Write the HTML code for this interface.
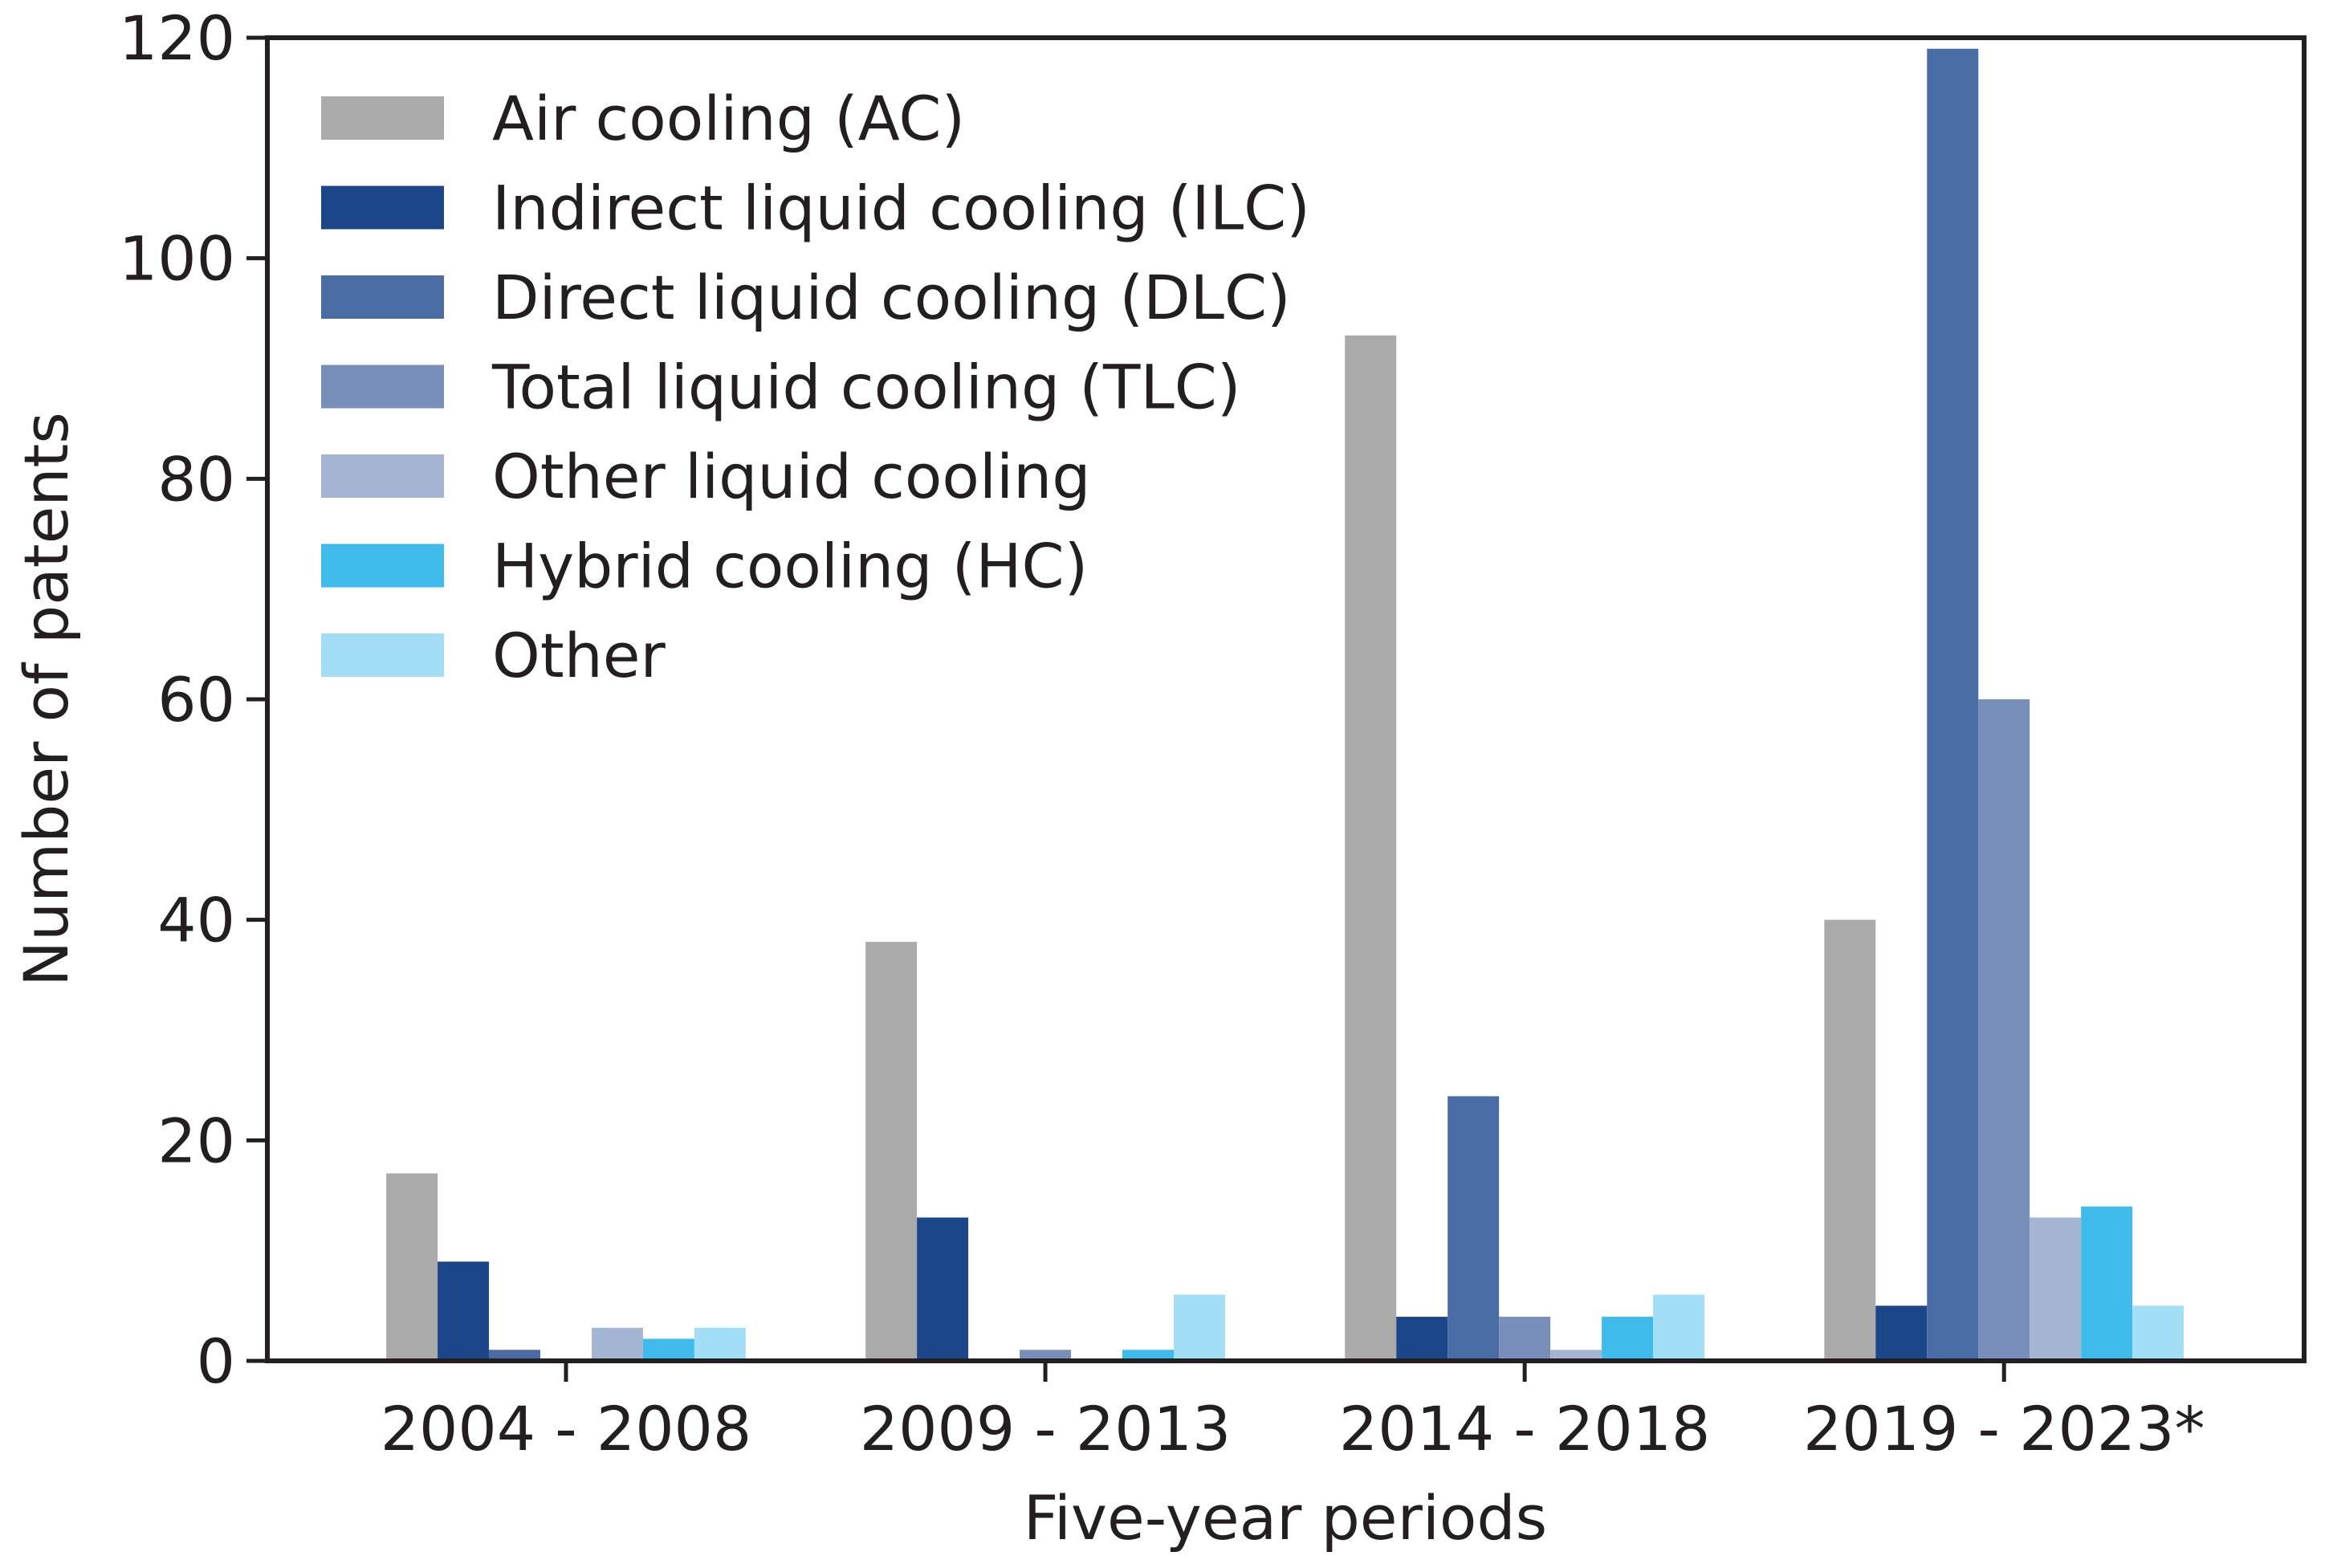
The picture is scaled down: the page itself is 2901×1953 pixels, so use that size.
<!DOCTYPE html>
<html><head><meta charset="utf-8"><style>
html,body{margin:0;padding:0;background:#fff;}
svg{display:block;font-family:"DejaVu Sans","Liberation Sans",sans-serif;}
</style></head><body>
<svg id="chart" width="2901" height="1953" viewBox="0 0 2901 1953" xmlns="http://www.w3.org/2000/svg">
<g id="bars"></g>
<g id="axes"></g>
<g id="legend"></g>
<text x="0" y="0" transform="translate(84,871) rotate(-90)" text-anchor="middle" font-size="76" fill="#231f20">Number of patents</text>
<text x="1601" y="1917" text-anchor="middle" font-size="76" fill="#231f20">Five-year periods</text>
</svg>
<script>
const categories = ["2004 - 2008","2009 - 2013","2014 - 2018","2019 - 2023*"];
const seriesNames = ["Air cooling (AC)","Indirect liquid cooling (ILC)","Direct liquid cooling (DLC)","Total liquid cooling (TLC)","Other liquid cooling","Hybrid cooling (HC)","Other"];
const acValues = [17,38,93,40];
const ilcValues = [9,13,4,5];
const dlcValues = [1,0,24,119];
const tlcValues = [0,1,4,60];
const olcValues = [3,0,1,13];
const hcValues = [2,1,4,14];
const otherValues = [3,6,6,5];
const yTicks = [0,20,40,60,80,100,120];
const colors = ["#aaaaaa","#1c468a","#4a6ca4","#788fba","#a4b5d3","#3fbbeb","#a2def5"];

const series = [acValues,ilcValues,dlcValues,tlcValues,olcValues,hcValues,otherValues];
const NS = "http://www.w3.org/2000/svg";
const L=333,R=2870,T=47,B=1695;
const xMin=-0.623,xMax=3.626,yMin=0,yMax=120;
const xs = v => L + (v - xMin)/(xMax - xMin)*(R-L);
const ys = v => B - (v - yMin)/(yMax - yMin)*(B-T);
const barW = 0.75/7;
function mk(tag, attrs, parent){const e=document.createElementNS(NS,tag);for(const k in attrs)e.setAttribute(k,attrs[k]);parent.appendChild(e);return e;}
const gb=document.getElementById('bars');
series.forEach((vals,si)=>{
  vals.forEach((v,ci)=>{
    const x0 = xs(ci - 0.375 + si*barW), x1 = xs(ci - 0.375 + (si+1)*barW);
    const r = mk('rect',{x:x0,y:ys(v),width:x1-x0,height:ys(0)-ys(v),fill:colors[si]},gb);
    
    
  });
});
const ga=document.getElementById('axes');
const frame=mk('rect',{x:L,y:T,width:R-L,height:B-T,fill:'none',stroke:'#231f20','stroke-width':6},ga);


yTicks.forEach(t=>{
  const y=ys(t);
  const ln=mk('line',{x1:L-26,x2:L,y1:y,y2:y,stroke:'#231f20','stroke-width':5},ga);
  
  
  const tx=mk('text',{x:L-40,y:y+27,'text-anchor':'end','font-size':76,fill:'#231f20'},ga);
  tx.textContent=t;
  
  
});
categories.forEach((c,i)=>{
  const x=xs(i);
  const ln=mk('line',{x1:x,x2:x,y1:B,y2:B+26,stroke:'#231f20','stroke-width':5},ga);
  
  
  const tx=mk('text',{x:x,y:1806,'text-anchor':'middle','font-size':76,fill:'#231f20'},ga);
  tx.textContent=c;
  
  
});
const gl=document.getElementById('legend');
seriesNames.forEach((n,i)=>{
  const y=120+i*111.5;
  const p=mk('rect',{x:400,y:y,width:153,height:54,fill:colors[i]},gl);
  
  
  const tx=mk('text',{x:613,y:y+54,'font-size':76,fill:'#231f20'},gl);
  tx.textContent=n;
  
  
});
</script>
</body></html>
